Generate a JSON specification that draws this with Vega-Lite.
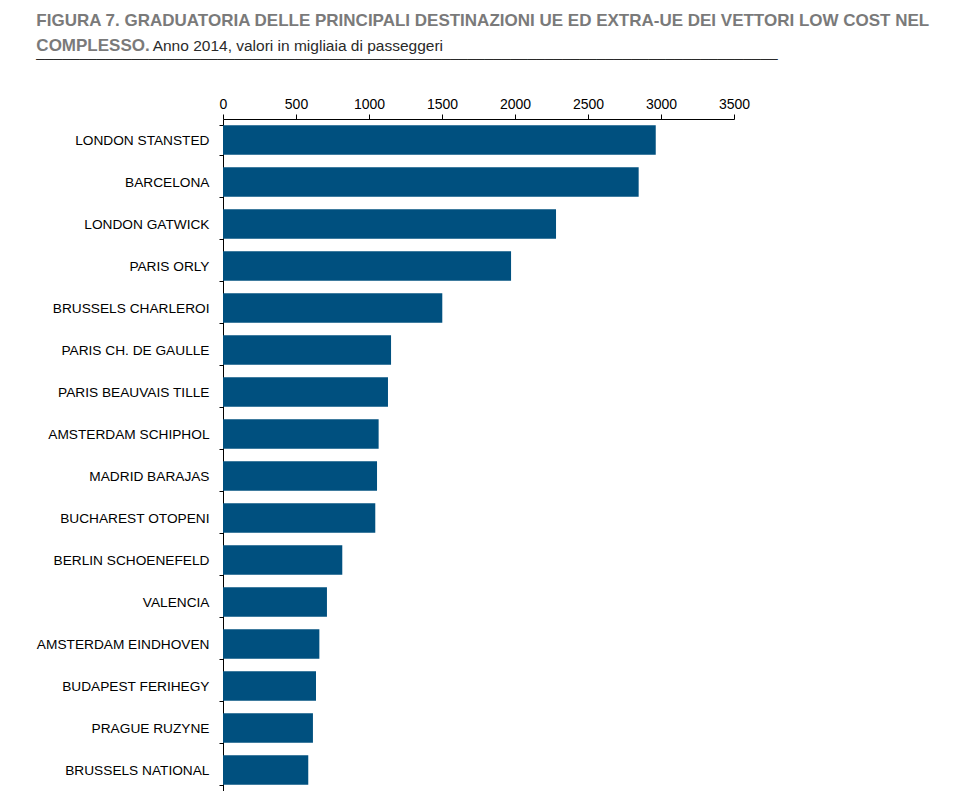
{
  "$schema": "https://vega.github.io/schema/vega-lite/v6.json",
  "width": 511,
  "height": 672,
  "padding": {"left": 36, "top": 11, "right": 10, "bottom": 0},
  "background": "white",
  "config": {"view": {"stroke": null}, "font": "Liberation Sans"},
  "title": {
    "text": ["FIGURA 7. GRADUATORIA DELLE PRINCIPALI DESTINAZIONI UE ED EXTRA-UE DEI VETTORI LOW COST NEL", "COMPLESSO."],
    "subtitle": ["\u200b\u00a0\u00a0\u00a0\u00a0\u00a0\u00a0\u00a0\u00a0\u00a0\u00a0\u00a0\u00a0\u00a0\u00a0\u00a0\u00a0\u00a0\u00a0\u00a0\u00a0\u00a0\u00a0\u00a0\u00a0\u00a0\u00a0\u00a0Anno 2014, valori in migliaia di passeggeri", "______________________________________________________________________________________"],
    "anchor": "start",
    "frame": "bounds",
    "font": "Liberation Sans",
    "fontSize": 17,
    "fontWeight": "bold",
    "color": "#7a7a7a",
    "lineHeight": 25,
    "limit": 0,
    "subtitleFont": "Liberation Sans",
    "subtitleFontSize": 15.5,
    "subtitleColor": "#2a2a2a",
    "subtitleLineHeight": 6,
    "subtitlePadding": -16,
    "offset": 36
  },
  "data": {
    "values": [
      {"dest": "LONDON STANSTED", "value": 2964},
      {"dest": "BARCELONA", "value": 2847},
      {"dest": "LONDON GATWICK", "value": 2281},
      {"dest": "PARIS ORLY", "value": 1973},
      {"dest": "BRUSSELS CHARLEROI", "value": 1502},
      {"dest": "PARIS CH. DE GAULLE", "value": 1151},
      {"dest": "PARIS BEAUVAIS TILLE", "value": 1130},
      {"dest": "AMSTERDAM SCHIPHOL", "value": 1066},
      {"dest": "MADRID BARAJAS", "value": 1055},
      {"dest": "BUCHAREST OTOPENI", "value": 1043},
      {"dest": "BERLIN SCHOENEFELD", "value": 817},
      {"dest": "VALENCIA", "value": 712},
      {"dest": "AMSTERDAM EINDHOVEN", "value": 660},
      {"dest": "BUDAPEST FERIHEGY", "value": 637},
      {"dest": "PRAGUE RUZYNE", "value": 616},
      {"dest": "BRUSSELS NATIONAL", "value": 584}
    ]
  },
  "mark": {"type": "bar", "color": "#00507f"},
  "encoding": {
    "y": {
      "field": "dest",
      "type": "nominal",
      "sort": null,
      "scale": {"paddingInner": 0.3, "paddingOuter": 0.15},
      "axis": {
        "title": null,
        "domainColor": "black",
        "tickColor": "black",
        "tickSize": 4,
        "tickBand": "extent",
        "labelFont": "Liberation Sans",
        "labelFontSize": 13.7,
        "labelColor": "black",
        "labelPadding": 10,
        "labelLimit": 300
      }
    },
    "x": {
      "field": "value",
      "type": "quantitative",
      "scale": {"domain": [0, 3500], "nice": false},
      "axis": {
        "orient": "top",
        "title": null,
        "grid": false,
        "values": [0, 500, 1000, 1500, 2000, 2500, 3000, 3500],
        "format": "d",
        "labelFlush": false,
        "domainColor": "black",
        "tickColor": "black",
        "tickSize": 5,
        "labelFont": "Liberation Sans",
        "labelFontSize": 14,
        "labelColor": "black",
        "labelPadding": 3
      }
    }
  }
}
